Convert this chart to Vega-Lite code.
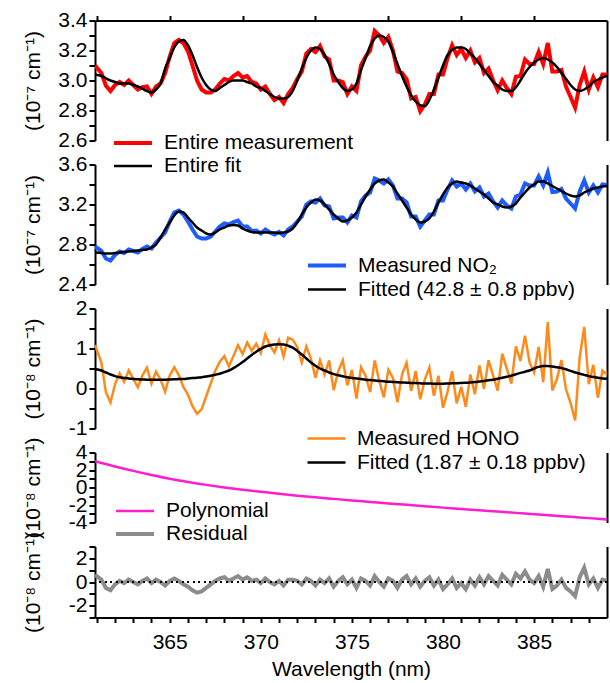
{
"$schema": "https://vega.github.io/schema/vega-lite/v6.json",
"background": "white",
"padding": {"left": 22, "top": 9.5, "right": 2, "bottom": 2},
"bounds": "flush",
"spacing": 24,
"config": {
  "font": "Liberation Sans",
  "view": {"stroke": null},
  "axis": {"domainColor": "black", "domainWidth": 2, "tickColor": "black", "tickWidth": 2, "labelFont": "Liberation Sans", "labelFontSize": 21, "labelColor": "black", "titleFont": "Liberation Sans", "titleFontSize": 21, "titleFontWeight": "normal", "titleColor": "black", "grid": false, "labelOverlap": false, "labelFlush": false},
  "legend": {"labelFont": "Liberation Sans", "labelFontSize": 21, "labelColor": "black", "labelLimit": 0}
},
"datasets": {
"d": [
{"w":360.9,"r":0.6,"f1":3.04,"f2":2.72,"f3":0.49,"m1":3.10,"m2":2.78,"m3":1.09},
{"w":361.25,"r":0.2,"f1":3.03,"f2":2.715,"f3":0.45,"m1":3.05,"m2":2.735,"m3":0.65},
{"w":361.5,"r":-0.5,"f1":3.015,"f2":2.71,"f3":0.40,"m1":2.965,"m2":2.66,"m3":-0.10},
{"w":361.75,"r":-0.7,"f1":3.00,"f2":2.71,"f3":0.35,"m1":2.93,"m2":2.64,"m3":-0.35},
{"w":362.0,"r":-0.2,"f1":2.99,"f2":2.715,"f3":0.31,"m1":2.97,"m2":2.695,"m3":0.11},
{"w":362.25,"r":0.1,"f1":2.98,"f2":2.72,"f3":0.28,"m1":2.99,"m2":2.73,"m3":0.38},
{"w":362.5,"r":-0.1,"f1":2.98,"f2":2.725,"f3":0.265,"m1":2.97,"m2":2.715,"m3":0.165},
{"w":362.75,"r":0.2,"f1":2.98,"f2":2.73,"f3":0.25,"m1":3.00,"m2":2.75,"m3":0.45},
{"w":363.0,"r":0.0,"f1":2.97,"f2":2.735,"f3":0.24,"m1":2.97,"m2":2.735,"m3":0.24},
{"w":363.25,"r":-0.2,"f1":2.96,"f2":2.74,"f3":0.23,"m1":2.94,"m2":2.72,"m3":0.03},
{"w":363.5,"r":0.1,"f1":2.945,"f2":2.745,"f3":0.225,"m1":2.955,"m2":2.755,"m3":0.325},
{"w":363.75,"r":0.3,"f1":2.93,"f2":2.75,"f3":0.22,"m1":2.96,"m2":2.78,"m3":0.52},
{"w":364.0,"r":-0.1,"f1":2.92,"f2":2.77,"f3":0.22,"m1":2.91,"m2":2.76,"m3":0.12},
{"w":364.25,"r":0.2,"f1":2.94,"f2":2.80,"f3":0.22,"m1":2.96,"m2":2.82,"m3":0.42},
{"w":364.5,"r":0.0,"f1":2.98,"f2":2.87,"f3":0.22,"m1":2.98,"m2":2.87,"m3":0.22},
{"w":364.75,"r":-0.3,"f1":3.08,"f2":2.95,"f3":0.22,"m1":3.05,"m2":2.92,"m3":-0.08},
{"w":365.0,"r":0.1,"f1":3.15,"f2":3.02,"f3":0.225,"m1":3.16,"m2":3.03,"m3":0.325},
{"w":365.25,"r":0.3,"f1":3.22,"f2":3.09,"f3":0.23,"m1":3.25,"m2":3.12,"m3":0.53},
{"w":365.5,"r":0.1,"f1":3.26,"f2":3.13,"f3":0.235,"m1":3.27,"m2":3.14,"m3":0.335},
{"w":365.75,"r":-0.2,"f1":3.27,"f2":3.12,"f3":0.24,"m1":3.25,"m2":3.10,"m3":0.04},
{"w":366.0,"r":-0.4,"f1":3.235,"f2":3.07,"f3":0.25,"m1":3.195,"m2":3.03,"m3":-0.15},
{"w":366.25,"r":-0.7,"f1":3.17,"f2":3.02,"f3":0.26,"m1":3.10,"m2":2.95,"m3":-0.44},
{"w":366.5,"r":-0.9,"f1":3.09,"f2":2.97,"f3":0.27,"m1":3.00,"m2":2.88,"m3":-0.63},
{"w":366.75,"r":-0.8,"f1":3.02,"f2":2.94,"f3":0.28,"m1":2.94,"m2":2.86,"m3":-0.52},
{"w":367.0,"r":-0.5,"f1":2.97,"f2":2.91,"f3":0.30,"m1":2.92,"m2":2.86,"m3":-0.20},
{"w":367.25,"r":-0.2,"f1":2.94,"f2":2.90,"f3":0.32,"m1":2.92,"m2":2.88,"m3":0.12},
{"w":367.5,"r":0.1,"f1":2.93,"f2":2.92,"f3":0.345,"m1":2.94,"m2":2.93,"m3":0.445},
{"w":367.75,"r":0.3,"f1":2.95,"f2":2.95,"f3":0.37,"m1":2.98,"m2":2.98,"m3":0.67},
{"w":368.0,"r":0.4,"f1":2.97,"f2":2.97,"f3":0.41,"m1":3.01,"m2":3.01,"m3":0.81},
{"w":368.25,"r":0.1,"f1":2.99,"f2":2.99,"f3":0.45,"m1":3.00,"m2":3.00,"m3":0.55},
{"w":368.5,"r":0.3,"f1":3.00,"f2":2.995,"f3":0.51,"m1":3.03,"m2":3.025,"m3":0.81},
{"w":368.75,"r":0.5,"f1":3.00,"f2":2.99,"f3":0.58,"m1":3.05,"m2":3.04,"m3":1.08},
{"w":369.0,"r":0.2,"f1":3.00,"f2":2.96,"f3":0.66,"m1":3.02,"m2":2.98,"m3":0.86},
{"w":369.25,"r":0.4,"f1":2.99,"f2":2.94,"f3":0.75,"m1":3.03,"m2":2.98,"m3":1.15},
{"w":369.5,"r":0.1,"f1":2.98,"f2":2.925,"f3":0.84,"m1":2.99,"m2":2.935,"m3":0.94},
{"w":369.75,"r":0.2,"f1":2.96,"f2":2.92,"f3":0.92,"m1":2.98,"m2":2.94,"m3":1.12},
{"w":370.0,"r":-0.1,"f1":2.95,"f2":2.92,"f3":0.99,"m1":2.94,"m2":2.91,"m3":0.89},
{"w":370.25,"r":0.3,"f1":2.93,"f2":2.92,"f3":1.05,"m1":2.96,"m2":2.95,"m3":1.35},
{"w":370.5,"r":0.0,"f1":2.91,"f2":2.92,"f3":1.08,"m1":2.91,"m2":2.92,"m3":1.08},
{"w":370.75,"r":-0.2,"f1":2.89,"f2":2.92,"f3":1.10,"m1":2.87,"m2":2.90,"m3":0.90},
{"w":371.0,"r":0.1,"f1":2.88,"f2":2.915,"f3":1.105,"m1":2.89,"m2":2.925,"m3":1.205},
{"w":371.25,"r":-0.3,"f1":2.88,"f2":2.92,"f3":1.10,"m1":2.85,"m2":2.89,"m3":0.80},
{"w":371.5,"r":0.2,"f1":2.89,"f2":2.93,"f3":1.07,"m1":2.91,"m2":2.95,"m3":1.27},
{"w":371.75,"r":0.2,"f1":2.93,"f2":2.96,"f3":1.02,"m1":2.95,"m2":2.98,"m3":1.22},
{"w":372.0,"r":0.1,"f1":3.00,"f2":3.02,"f3":0.94,"m1":3.01,"m2":3.03,"m3":1.04},
{"w":372.25,"r":-0.2,"f1":3.08,"f2":3.10,"f3":0.85,"m1":3.06,"m2":3.08,"m3":0.65},
{"w":372.5,"r":0.3,"f1":3.15,"f2":3.17,"f3":0.75,"m1":3.18,"m2":3.20,"m3":1.05},
{"w":372.75,"r":0.1,"f1":3.20,"f2":3.22,"f3":0.65,"m1":3.21,"m2":3.23,"m3":0.75},
{"w":373.0,"r":-0.3,"f1":3.22,"f2":3.25,"f3":0.57,"m1":3.19,"m2":3.22,"m3":0.27},
{"w":373.25,"r":0.2,"f1":3.21,"f2":3.24,"f3":0.50,"m1":3.23,"m2":3.26,"m3":0.70},
{"w":373.5,"r":-0.1,"f1":3.17,"f2":3.20,"f3":0.45,"m1":3.16,"m2":3.19,"m3":0.35},
{"w":373.75,"r":0.3,"f1":3.11,"f2":3.15,"f3":0.40,"m1":3.14,"m2":3.18,"m3":0.70},
{"w":374.0,"r":-0.4,"f1":3.04,"f2":3.10,"f3":0.36,"m1":3.00,"m2":3.06,"m3":-0.04},
{"w":374.25,"r":0.1,"f1":2.99,"f2":3.06,"f3":0.33,"m1":3.00,"m2":3.07,"m3":0.43},
{"w":374.5,"r":0.4,"f1":2.95,"f2":3.03,"f3":0.305,"m1":2.99,"m2":3.07,"m3":0.705},
{"w":374.75,"r":-0.2,"f1":2.93,"f2":3.04,"f3":0.28,"m1":2.91,"m2":3.02,"m3":0.08},
{"w":375.0,"r":0.2,"f1":2.94,"f2":3.07,"f3":0.265,"m1":2.96,"m2":3.09,"m3":0.465},
{"w":375.25,"r":-0.5,"f1":2.98,"f2":3.12,"f3":0.25,"m1":2.93,"m2":3.07,"m3":-0.25},
{"w":375.5,"r":0.3,"f1":3.07,"f2":3.20,"f3":0.235,"m1":3.10,"m2":3.23,"m3":0.535},
{"w":375.75,"r":0.1,"f1":3.15,"f2":3.28,"f3":0.22,"m1":3.16,"m2":3.29,"m3":0.32},
{"w":376.0,"r":-0.3,"f1":3.23,"f2":3.35,"f3":0.21,"m1":3.20,"m2":3.32,"m3":-0.09},
{"w":376.25,"r":0.5,"f1":3.28,"f2":3.41,"f3":0.20,"m1":3.33,"m2":3.46,"m3":0.70},
{"w":376.5,"r":0.0,"f1":3.30,"f2":3.44,"f3":0.19,"m1":3.30,"m2":3.44,"m3":0.19},
{"w":376.75,"r":-0.4,"f1":3.29,"f2":3.45,"f3":0.18,"m1":3.25,"m2":3.41,"m3":-0.22},
{"w":377.0,"r":0.3,"f1":3.26,"f2":3.42,"f3":0.17,"m1":3.29,"m2":3.45,"m3":0.47},
{"w":377.25,"r":0.1,"f1":3.19,"f2":3.38,"f3":0.165,"m1":3.20,"m2":3.39,"m3":0.265},
{"w":377.5,"r":-0.5,"f1":3.11,"f2":3.31,"f3":0.155,"m1":3.06,"m2":3.26,"m3":-0.345},
{"w":377.75,"r":0.2,"f1":3.03,"f2":3.24,"f3":0.15,"m1":3.05,"m2":3.26,"m3":0.35},
{"w":378.0,"r":0.5,"f1":2.96,"f2":3.17,"f3":0.145,"m1":3.01,"m2":3.22,"m3":0.645},
{"w":378.25,"r":-0.2,"f1":2.90,"f2":3.10,"f3":0.14,"m1":2.88,"m2":3.08,"m3":-0.06},
{"w":378.5,"r":0.3,"f1":2.86,"f2":3.05,"f3":0.135,"m1":2.89,"m2":3.08,"m3":0.435},
{"w":378.75,"r":-0.4,"f1":2.835,"f2":3.02,"f3":0.13,"m1":2.795,"m2":2.98,"m3":-0.27},
{"w":379.0,"r":0.1,"f1":2.83,"f2":3.03,"f3":0.125,"m1":2.84,"m2":3.04,"m3":0.225},
{"w":379.25,"r":0.4,"f1":2.87,"f2":3.06,"f3":0.125,"m1":2.91,"m2":3.10,"m3":0.525},
{"w":379.5,"r":-0.3,"f1":2.94,"f2":3.13,"f3":0.12,"m1":2.91,"m2":3.10,"m3":-0.18},
{"w":379.75,"r":0.2,"f1":3.02,"f2":3.22,"f3":0.12,"m1":3.04,"m2":3.24,"m3":0.32},
{"w":380.0,"r":-0.6,"f1":3.10,"f2":3.30,"f3":0.12,"m1":3.04,"m2":3.24,"m3":-0.48},
{"w":380.25,"r":-0.2,"f1":3.17,"f2":3.37,"f3":0.125,"m1":3.15,"m2":3.35,"m3":-0.075},
{"w":380.5,"r":0.3,"f1":3.205,"f2":3.41,"f3":0.13,"m1":3.235,"m2":3.44,"m3":0.43},
{"w":380.75,"r":-0.5,"f1":3.22,"f2":3.43,"f3":0.13,"m1":3.17,"m2":3.38,"m3":-0.37},
{"w":381.0,"r":-0.1,"f1":3.22,"f2":3.42,"f3":0.14,"m1":3.21,"m2":3.41,"m3":0.04},
{"w":381.25,"r":-0.6,"f1":3.21,"f2":3.41,"f3":0.145,"m1":3.15,"m2":3.35,"m3":-0.455},
{"w":381.5,"r":0.2,"f1":3.18,"f2":3.39,"f3":0.15,"m1":3.20,"m2":3.41,"m3":0.35},
{"w":381.75,"r":-0.3,"f1":3.15,"f2":3.36,"f3":0.16,"m1":3.12,"m2":3.33,"m3":-0.14},
{"w":382.0,"r":0.4,"f1":3.11,"f2":3.33,"f3":0.175,"m1":3.15,"m2":3.37,"m3":0.575},
{"w":382.25,"r":-0.2,"f1":3.07,"f2":3.30,"f3":0.19,"m1":3.05,"m2":3.28,"m3":-0.01},
{"w":382.5,"r":0.5,"f1":3.03,"f2":3.26,"f3":0.205,"m1":3.08,"m2":3.31,"m3":0.705},
{"w":382.75,"r":0.1,"f1":2.99,"f2":3.22,"f3":0.22,"m1":3.00,"m2":3.23,"m3":0.32},
{"w":383.0,"r":-0.3,"f1":2.965,"f2":3.20,"f3":0.245,"m1":2.935,"m2":3.17,"m3":-0.055},
{"w":383.25,"r":0.6,"f1":2.94,"f2":3.18,"f3":0.27,"m1":3.00,"m2":3.24,"m3":0.87},
{"w":383.5,"r":0.2,"f1":2.93,"f2":3.17,"f3":0.295,"m1":2.95,"m2":3.19,"m3":0.495},
{"w":383.75,"r":-0.2,"f1":2.93,"f2":3.18,"f3":0.32,"m1":2.91,"m2":3.16,"m3":0.12},
{"w":384.0,"r":0.7,"f1":2.955,"f2":3.21,"f3":0.355,"m1":3.025,"m2":3.28,"m3":1.055},
{"w":384.25,"r":0.3,"f1":3.00,"f2":3.27,"f3":0.39,"m1":3.03,"m2":3.30,"m3":0.69},
{"w":384.5,"r":0.9,"f1":3.05,"f2":3.32,"f3":0.42,"m1":3.14,"m2":3.41,"m3":1.32},
{"w":384.75,"r":0.2,"f1":3.09,"f2":3.37,"f3":0.45,"m1":3.11,"m2":3.39,"m3":0.65},
{"w":385.0,"r":-0.1,"f1":3.12,"f2":3.40,"f3":0.50,"m1":3.11,"m2":3.39,"m3":0.40},
{"w":385.25,"r":0.5,"f1":3.14,"f2":3.43,"f3":0.54,"m1":3.19,"m2":3.48,"m3":1.04},
{"w":385.5,"r":-0.4,"f1":3.15,"f2":3.43,"f3":0.56,"m1":3.11,"m2":3.39,"m3":0.16},
{"w":385.75,"r":1.1,"f1":3.14,"f2":3.41,"f3":0.56,"m1":3.25,"m2":3.52,"m3":1.66},
{"w":386.0,"r":-0.6,"f1":3.12,"f2":3.385,"f3":0.55,"m1":3.06,"m2":3.325,"m3":-0.05},
{"w":386.25,"r":-0.3,"f1":3.09,"f2":3.36,"f3":0.53,"m1":3.06,"m2":3.33,"m3":0.23},
{"w":386.5,"r":0.2,"f1":3.05,"f2":3.335,"f3":0.51,"m1":3.07,"m2":3.355,"m3":0.71},
{"w":386.75,"r":-0.5,"f1":3.01,"f2":3.31,"f3":0.48,"m1":2.96,"m2":3.26,"m3":-0.02},
{"w":387.0,"r":-0.8,"f1":2.97,"f2":3.29,"f3":0.44,"m1":2.89,"m2":3.21,"m3":-0.36},
{"w":387.25,"r":-1.2,"f1":2.94,"f2":3.28,"f3":0.40,"m1":2.82,"m2":3.16,"m3":-0.80},
{"w":387.5,"r":0.4,"f1":2.93,"f2":3.29,"f3":0.37,"m1":2.97,"m2":3.33,"m3":0.77},
{"w":387.75,"r":1.2,"f1":2.94,"f2":3.32,"f3":0.34,"m1":3.06,"m2":3.44,"m3":1.54},
{"w":388.0,"r":-0.2,"f1":2.96,"f2":3.34,"f3":0.31,"m1":2.94,"m2":3.32,"m3":0.11},
{"w":388.25,"r":0.3,"f1":2.99,"f2":3.36,"f3":0.29,"m1":3.02,"m2":3.39,"m3":0.59},
{"w":388.5,"r":-0.5,"f1":3.005,"f2":3.37,"f3":0.27,"m1":2.955,"m2":3.32,"m3":-0.23},
{"w":388.75,"r":0.2,"f1":3.02,"f2":3.38,"f3":0.25,"m1":3.04,"m2":3.40,"m3":0.45},
{"w":389.0,"r":0.1,"f1":3.03,"f2":3.385,"f3":0.245,"m1":3.04,"m2":3.395,"m3":0.345}
],
"poly": [
{"w":360.9,"p":3.0},{"w":362,"p":2.4},{"w":363,"p":1.9},{"w":364,"p":1.43},{"w":365,"p":1.0},{"w":366,"p":0.63},{"w":367,"p":0.3},{"w":368,"p":0.01},{"w":369,"p":-0.25},{"w":370,"p":-0.49},{"w":371,"p":-0.72},{"w":372,"p":-0.93},{"w":373,"p":-1.12},{"w":374,"p":-1.3},{"w":375,"p":-1.48},{"w":376,"p":-1.65},{"w":377,"p":-1.82},{"w":378,"p":-1.98},{"w":379,"p":-2.14},{"w":380,"p":-2.3},{"w":381,"p":-2.45},{"w":382,"p":-2.6},{"w":383,"p":-2.75},{"w":384,"p":-2.9},{"w":385,"p":-3.05},{"w":386,"p":-3.2},{"w":387,"p":-3.35},{"w":388,"p":-3.5},{"w":389,"p":-3.65}
]
},
"vconcat": [
{
 "width": 512, "height": 120,
 "data": {"name": "d"},
 "layer": [
  {"mark": {"type": "line", "clip": true},
   "encoding": {
    "x": {"field": "w", "type": "quantitative", "scale": {"domain": [360.9, 389], "nice": false, "zero": false},
          "axis": {"orient": "top", "values": [361,362,363,364,365,366,367,368,369,370,371,372,373,374,375,376,377,378,379,380,381,382,383,384,385,386,387,388], "labels": false, "ticks": true, "tickSize": 5, "title": null}},
    "y": {"field": "m1", "type": "quantitative", "scale": {"domain": [2.6, 3.4], "nice": false, "zero": false},
          "axis": {"orient": "left", "values": [2.6,2.7,2.8,2.9,3.0,3.1,3.2,3.3,3.4], "labelExpr": "round(datum.value*10) % 2 === 0 ? format(datum.value, '.1f') : ''", "ticks": true, "tickSize": 6, "labelPadding": 2, "title": "(10⁻⁷ cm⁻¹)", "titleX": -56, "titleBaseline": "alphabetic"}},
    "color": {"datum": "Entire measurement", "type": "nominal", "scale": {"domain": ["Entire measurement", "Entire fit"], "range": ["#ff0000", "#000000"]},
              "legend": {"orient": "none", "legendX": 17, "legendY": 111, "title": null, "symbolType": "stroke", "symbolSize": 1444, "labelOffset": 10, "padding": 0, "rowPadding": 0, "clipHeight": 23}},
    "strokeWidth": {"datum": "Entire measurement", "type": "nominal", "scale": {"domain": ["Entire measurement", "Entire fit"], "range": [4, 2.5]},
              "legend": {"orient": "none", "legendX": 17, "legendY": 111, "title": null, "symbolType": "stroke", "symbolSize": 1444, "labelOffset": 10, "padding": 0, "rowPadding": 0, "clipHeight": 23}}
   }},
  {"mark": {"type": "line", "interpolate": "monotone", "clip": true},
   "encoding": {
    "x": {"field": "w", "type": "quantitative"},
    "y": {"field": "f1", "type": "quantitative", "axis": {"orient": "right", "labels": false, "ticks": false, "title": null}},
    "color": {"datum": "Entire fit", "type": "nominal"},
    "strokeWidth": {"datum": "Entire fit", "type": "nominal"}
   }}
 ],
 "resolve": {"axis": {"y": "independent"}}
},
{
 "width": 512, "height": 120,
 "data": {"name": "d"},
 "layer": [
  {"mark": {"type": "line", "clip": true},
   "encoding": {
    "x": {"field": "w", "type": "quantitative", "scale": {"domain": [360.9, 389], "nice": false, "zero": false}, "axis": null},
    "y": {"field": "m2", "type": "quantitative", "scale": {"domain": [2.4, 3.6], "nice": false, "zero": false},
          "axis": {"orient": "left", "values": [2.4,2.6,2.8,3.0,3.2,3.4,3.6], "labelExpr": "round(datum.value*10) % 4 === 0 ? format(datum.value, '.1f') : ''", "ticks": true, "tickSize": 6, "labelPadding": 2, "title": "(10⁻⁷ cm⁻¹)", "titleX": -56, "titleBaseline": "alphabetic"}},
    "color": {"datum": "Measured NO₂", "type": "nominal", "scale": {"domain": ["Measured NO₂", "Fitted (42.8 ± 0.8 ppbv)"], "range": ["#1f5cff", "#000000"]},
              "legend": {"orient": "none", "legendX": 211, "legendY": 89, "title": null, "symbolType": "stroke", "symbolSize": 1444, "labelOffset": 10, "padding": 0, "rowPadding": 0, "clipHeight": 24}},
    "strokeWidth": {"datum": "Measured NO₂", "type": "nominal", "scale": {"domain": ["Measured NO₂", "Fitted (42.8 ± 0.8 ppbv)"], "range": [4, 2.5]},
              "legend": {"orient": "none", "legendX": 211, "legendY": 89, "title": null, "symbolType": "stroke", "symbolSize": 1444, "labelOffset": 10, "padding": 0, "rowPadding": 0, "clipHeight": 24}}
   }},
  {"mark": {"type": "line", "interpolate": "monotone", "clip": true},
   "encoding": {
    "x": {"field": "w", "type": "quantitative"},
    "y": {"field": "f2", "type": "quantitative", "axis": {"orient": "right", "labels": false, "ticks": false, "title": null}},
    "color": {"datum": "Fitted (42.8 ± 0.8 ppbv)", "type": "nominal"},
    "strokeWidth": {"datum": "Fitted (42.8 ± 0.8 ppbv)", "type": "nominal"}
   }}
 ],
 "resolve": {"axis": {"y": "independent"}}
},
{
 "width": 512, "height": 120,
 "data": {"name": "d"},
 "layer": [
  {"mark": {"type": "line", "clip": true},
   "encoding": {
    "x": {"field": "w", "type": "quantitative", "scale": {"domain": [360.9, 389], "nice": false, "zero": false}, "axis": null},
    "y": {"field": "m3", "type": "quantitative", "scale": {"domain": [-1, 2], "nice": false, "zero": false},
          "axis": {"orient": "left", "values": [-1,-0.5,0,0.5,1,1.5,2], "labelExpr": "round(datum.value*2) % 2 === 0 ? '' + datum.value : ''", "ticks": true, "tickSize": 6, "labelPadding": 2, "title": "(10⁻⁸ cm⁻¹)", "titleX": -56, "titleBaseline": "alphabetic"}},
    "color": {"datum": "Measured HONO", "type": "nominal", "scale": {"domain": ["Measured HONO", "Fitted (1.87 ± 0.18 ppbv)"], "range": ["#ff8a1c", "#000000"]},
              "legend": {"orient": "none", "legendX": 211, "legendY": 118, "title": null, "symbolType": "stroke", "symbolSize": 1444, "labelOffset": 10, "padding": 0, "rowPadding": 0, "clipHeight": 24}},
    "strokeWidth": {"datum": "Measured HONO", "type": "nominal", "scale": {"domain": ["Measured HONO", "Fitted (1.87 ± 0.18 ppbv)"], "range": [2.5, 2.5]},
              "legend": {"orient": "none", "legendX": 211, "legendY": 118, "title": null, "symbolType": "stroke", "symbolSize": 1444, "labelOffset": 10, "padding": 0, "rowPadding": 0, "clipHeight": 24}}
   }},
  {"mark": {"type": "line", "interpolate": "monotone", "clip": true},
   "encoding": {
    "x": {"field": "w", "type": "quantitative"},
    "y": {"field": "f3", "type": "quantitative", "axis": {"orient": "right", "labels": false, "ticks": false, "title": null}},
    "color": {"datum": "Fitted (1.87 ± 0.18 ppbv)", "type": "nominal"},
    "strokeWidth": {"datum": "Fitted (1.87 ± 0.18 ppbv)", "type": "nominal"}
   }}
 ],
 "resolve": {"axis": {"y": "independent"}}
},
{
 "width": 512, "height": 70,
 "data": {"name": "poly"},
 "layer": [
  {"mark": {"type": "line", "interpolate": "monotone", "clip": true},
   "encoding": {
    "x": {"field": "w", "type": "quantitative", "scale": {"domain": [360.9, 389], "nice": false, "zero": false}, "axis": null},
    "y": {"field": "p", "type": "quantitative", "scale": {"domain": [-4, 4], "nice": false, "zero": false},
          "axis": {"orient": "left", "values": [-4,-3,-2,-1,0,1,2,3,4], "labelExpr": "datum.value % 2 === 0 ? '' + datum.value : ''", "ticks": true, "tickSize": 6, "labelPadding": 2, "title": "(10⁻⁸ cm⁻¹)", "titleX": -56, "titleBaseline": "alphabetic"}},
    "color": {"datum": "Polynomial", "type": "nominal", "scale": {"domain": ["Polynomial", "Residual"], "range": ["#ff1ecf", "#8c8c8c"]},
              "legend": {"orient": "none", "legendX": 19, "legendY": 47, "title": null, "symbolType": "stroke", "symbolSize": 1444, "labelOffset": 10, "padding": 0, "rowPadding": 0, "clipHeight": 23}},
    "strokeWidth": {"datum": "Polynomial", "type": "nominal", "scale": {"domain": ["Polynomial", "Residual"], "range": [2.5, 4]},
              "legend": {"orient": "none", "legendX": 19, "legendY": 47, "title": null, "symbolType": "stroke", "symbolSize": 1444, "labelOffset": 10, "padding": 0, "rowPadding": 0, "clipHeight": 23}}
   }},
  {"mark": {"type": "line", "opacity": 0},
   "encoding": {
    "x": {"field": "w", "type": "quantitative"},
    "y": {"field": "p", "type": "quantitative", "axis": {"orient": "right", "labels": false, "ticks": false, "title": null}}
   }}
 ],
 "resolve": {"axis": {"y": "independent"}}
},
{
 "width": 512, "height": 71,
 "data": {"name": "d"},
 "layer": [
  {"mark": {"type": "line", "color": "#8c8c8c", "strokeWidth": 4, "clip": true},
   "encoding": {
    "x": {"field": "w", "type": "quantitative", "scale": {"domain": [360.9, 389], "nice": false, "zero": false},
          "axis": {"orient": "bottom", "values": [361,362,363,364,365,366,367,368,369,370,371,372,373,374,375,376,377,378,379,380,381,382,383,384,385,386,387,388], "labelExpr": "datum.value % 5 === 0 ? '' + datum.value : ''", "ticks": true, "tickSize": 5, "labelPadding": 9, "title": "Wavelength (nm)", "titlePadding": 6}},
    "y": {"field": "r", "type": "quantitative", "scale": {"domain": [-3, 3], "nice": false, "zero": false},
          "axis": {"orient": "left", "values": [-3,-2,-1,0,1,2,3], "labelExpr": "datum.value % 2 === 0 ? '' + datum.value : ''", "ticks": true, "tickSize": 6, "labelPadding": 2, "title": "(10⁻⁸ cm⁻¹)", "titleX": -56, "titleBaseline": "alphabetic"}}
   }},
  {"mark": {"type": "rule", "color": "black", "strokeWidth": 1.5, "strokeDash": [1.5, 4]},
   "encoding": {"y": {"datum": 0, "axis": {"orient": "right", "labels": false, "ticks": false, "title": null}}}}
 ],
 "resolve": {"axis": {"y": "independent"}}
}
],
"resolve": {"scale": {"color": "independent", "strokeWidth": "independent"}, "legend": {"color": "independent", "strokeWidth": "independent"}}
}
